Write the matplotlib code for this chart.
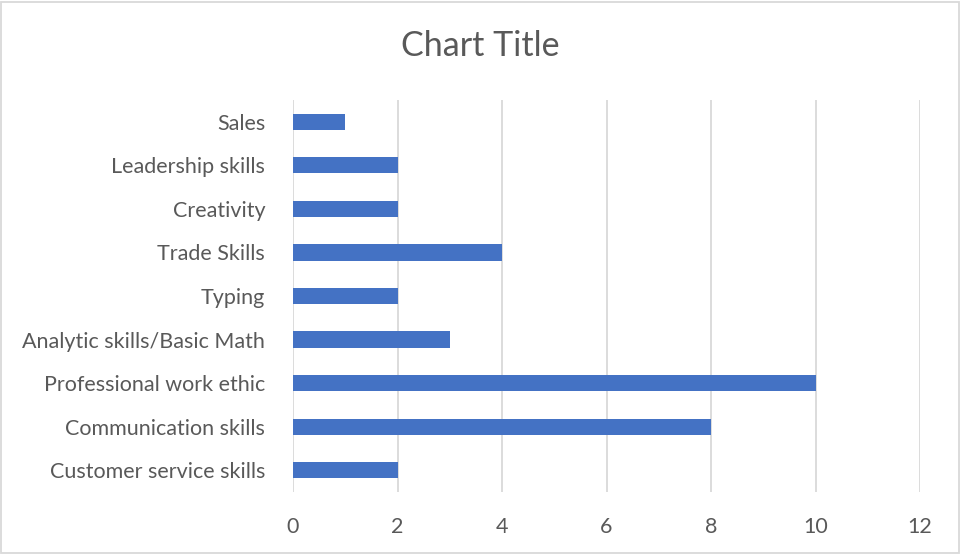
import matplotlib.pyplot as plt
from matplotlib.patches import Rectangle

plt.rcParams['font.family'] = ['Lato', 'DejaVu Sans']

skills = ['Customer service skills', 'Communication skills', 'Professional work ethic',
          'Analytic skills/Basic Math', 'Typing', 'Trade Skills', 'Creativity',
          'Leadership skills', 'Sales']
counts = [2, 8, 10, 3, 2, 4, 2, 2, 1]
xticks = [0, 2, 4, 6, 8, 10, 12]

text_color = '#595959'
grid_color = '#d9d9d9'

fig = plt.figure(figsize=(9.61, 5.54), dpi=100)
ax = fig.add_axes([293/961, 62/554, 627/961, 392/554])

ax.barh(range(len(skills)), counts, height=0.37, color='#4472C4', zorder=3)
ax.set_xlim(0, 12)
ax.set_ylim(-0.5, len(skills) - 0.5)
ax.set_xticks(xticks)
ax.set_yticks(range(len(skills)))
ax.set_yticklabels(skills)
ax.xaxis.grid(True, color=grid_color, lw=1.3, zorder=0)
for s in ax.spines.values():
    s.set_visible(False)
ax.tick_params(length=0, labelsize=15.5, colors=text_color)
ax.tick_params(axis='x', pad=18)
ax.tick_params(axis='y', pad=20)

fig.text(0.5, 1 - 46/554, 'Chart Title', ha='center', va='center',
         fontsize=24.5, color=text_color)

# light frame around the chart
fig.patches.append(Rectangle((1/961, 1/554), 958/961, 551/554, transform=fig.transFigure,
                             fill=False, edgecolor=grid_color, lw=1.3))

fig.savefig('out.png', dpi=100)
